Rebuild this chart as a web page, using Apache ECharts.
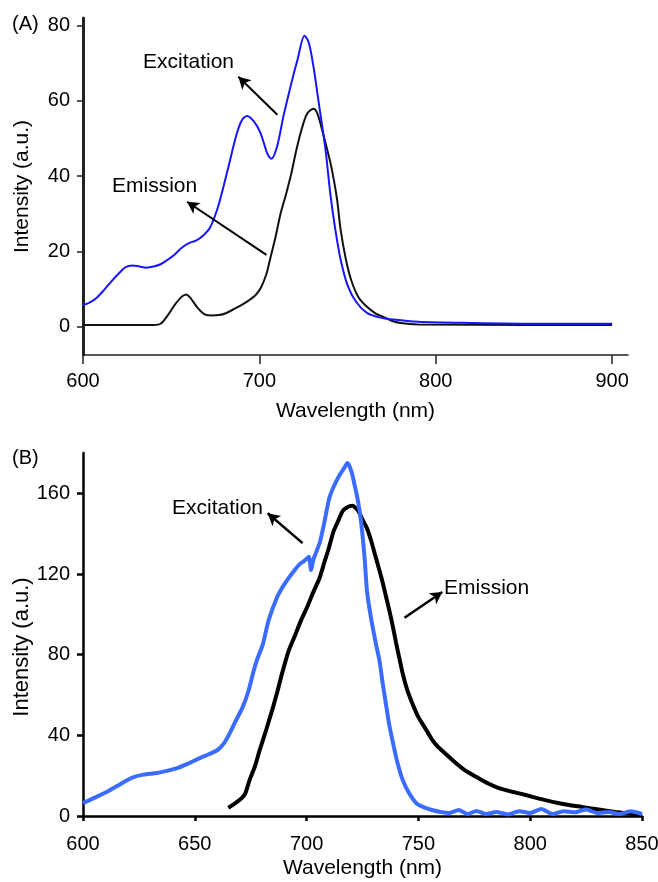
<!DOCTYPE html>
<html>
<head>
<meta charset="utf-8">
<script src="https://cdn.jsdelivr.net/npm/echarts@6/dist/echarts.min.js"></script>
<style>
  html, body { margin: 0; padding: 0; background: #fff; }
  #chart { width: 658px; height: 882px; }
</style>
</head>
<body>
<div id="chart"></div>
<script>
  // ---- panel A (smooth spectra) ----
  var excA_nm  = [600, 604, 608, 612, 616, 620, 624, 628, 632, 636, 640, 644, 648, 652, 656, 660, 664, 668, 672, 676, 679, 683, 687, 690, 693, 697, 700.6, 704.5, 706.8, 710, 713.6, 717.6, 721.6, 725.6, 728, 730.7, 733.5, 737.5, 740.3, 743, 746, 750, 755, 761, 768, 776, 790, 820, 860, 900];
  var excA_int = [5.8, 6.5, 7.8, 9.8, 12, 14, 15.8, 16.3, 16, 15.7, 16, 16.6, 17.8, 19.2, 21, 22.2, 22.9, 24.2, 26.3, 31, 36, 43.5, 51, 54.8, 56, 54.5, 51.5, 46, 44.6, 47.8, 55.8, 63.7, 70.9, 77.3, 75.5, 69, 60, 47, 35, 26, 18, 11, 6.5, 3.7, 2.5, 1.9, 1.3, 1, 0.8, 0.8];

  var emA_nm  = [600, 640, 644, 648, 652, 656, 658.5, 661, 665, 669, 673, 677, 681, 686, 690, 694, 698, 701, 704, 706, 709, 712, 715, 718, 721, 724, 727, 730.7, 733, 736, 739, 741, 744, 746, 749, 752, 756, 761, 766, 770, 775, 780, 790, 850, 900];
  var emA_int = [0.5, 0.5, 0.8, 3, 5.8, 8, 8.6, 7.6, 5, 3.3, 3, 3.1, 3.6, 4.8, 5.8, 7, 8.5, 10.5, 14, 17.8, 23.5, 30, 35, 40.5, 47, 52.5, 56.5, 57.9, 56.5, 51.5, 46, 42, 34, 26, 18, 12.5, 8, 5.3, 3.5, 2.7, 1.6, 1, 0.6, 0.5, 0.5];

  // ---- panel B (raw spectra) ----
  var excB_nm  = [600, 606, 612, 617, 622, 627, 633, 638, 642, 647, 652, 656, 660, 663, 665.6, 668, 671.4, 674, 676, 678, 680.4, 683, 686.6, 689, 691, 694, 697, 699, 701, 702, 703, 704, 706, 708, 710, 712, 714.7, 716.5, 718.3, 720, 721.4, 723, 724.5, 726, 727, 729, 731, 732.6, 734, 735.7, 737, 738.4, 740.5, 743, 746, 749, 752, 756, 760, 764, 768, 772, 776, 780, 785, 790, 795, 800, 805, 810, 815, 820, 825, 830, 835, 840, 845, 850];
  var excB_int = [6.4, 9.5, 12.8, 16, 19, 20.5, 21.3, 22.5, 23.7, 26, 28.6, 30.5, 32.6, 36, 41, 46.5, 54, 62, 70.6, 78, 85, 97, 108, 113, 116.5, 121, 125, 126.5, 128.5, 122, 127, 130, 136, 146, 157, 163, 169, 172, 175, 171, 164.5, 156, 144.7, 127, 111.6, 97, 85.4, 77, 66, 54, 45, 37.5, 27, 17.8, 11, 6.4, 4.5, 3, 2, 1.5, 3, 1, 2.5, 1, 2, 0.8, 2.4, 1.5, 3.5, 1, 2.4, 1.8, 3.2, 1.5, 2, 1, 2.3, 1];

  var emB_nm  = [665, 667, 670, 672.5, 674.5, 677, 679, 682, 685, 687, 689, 692, 695, 697.5, 700, 703, 705.8, 708, 710, 712, 714, 716, 718, 720.5, 723, 725, 727, 729, 731, 733.5, 735.7, 738, 740, 743, 745, 747.3, 750, 753.6, 756, 759, 763, 767, 771, 776, 781, 786, 792, 798, 804, 810, 816, 823, 830, 838, 844, 850];
  var emB_int = [4, 5.5, 7.9, 11, 17.8, 25, 32.6, 43, 54, 62, 70.6, 82, 90, 97, 103, 111, 118, 126, 133, 141, 146, 151, 153, 153.8, 151.5, 147, 142.7, 136, 128, 118, 108, 97, 86, 70.6, 62.5, 55.8, 49, 42.5, 38, 34, 30, 26, 22.5, 19.3, 16.2, 13.8, 12, 10.4, 8.6, 7, 5.7, 4.5, 3.3, 2, 1.2, 0.5];

  // tick labels
  var xTicksA = [600, 700, 800, 900];
  var yTicksA = [0, 20, 40, 60, 80];
  var xTicksB = [600, 650, 700, 750, 800, 850];
  var yTicksB = [0, 40, 80, 120, 160];

  // annotation arrows (tail -> head, in data units)
  var arrowExcA = [[710.2, 56.3], [688.1, 66.4]];
  var arrowEmA  = [[704, 19.1], [659, 33.2]];
  var arrowExcB = [[698.2, 135.3], [682.6, 150.1]];
  var arrowEmB  = [[743.8, 98.3], [760.7, 111.1]];

  function zip(xs, ys) {
    return xs.map(function (x, i) { return [x, ys[i]]; });
  }

  function arrow(pts, width) {
    return {
      silent: true,
      symbol: ['none', 'arrow'],
      symbolSize: [10, 12],
      label: { show: false },
      lineStyle: { color: '#000', width: width, type: 'solid' },
      data: [[{ coord: pts[0] }, { coord: pts[1] }]]
    };
  }

  var font = "'Liberation Sans', Arial, sans-serif";
  var txt = { color: '#000', fontFamily: font };

  var chart = echarts.init(document.getElementById('chart'), null, { renderer: 'canvas' });

  chart.setOption({
    animation: false,
    backgroundColor: '#fff',
    textStyle: txt,
    grid: [
      { left: 83, top: 18, width: 545, height: 337, outerBoundsMode: 'none' },
      { left: 83, top: 453, width: 559, height: 363, outerBoundsMode: 'none' }
    ],
    xAxis: [
      {
        type: 'value', gridIndex: 0, min: 600, max: 909,
        name: 'Wavelength (nm)', nameLocation: 'middle', nameGap: 46, nameMoveOverlap: false,
        nameTextStyle: { fontSize: 21, color: '#000', fontFamily: font },
        axisLine: { onZero: false, lineStyle: { color: '#222', width: 1.5 } },
        axisTick: { customValues: xTicksA, length: 9, lineStyle: { color: '#222', width: 1.5 } },
        axisLabel: { customValues: xTicksA, fontSize: 20, margin: 16, color: '#000', fontFamily: font },
        splitLine: { show: false }
      },
      {
        type: 'value', gridIndex: 1, min: 600, max: 850,
        name: 'Wavelength (nm)', nameLocation: 'middle', nameGap: 42, nameMoveOverlap: false,
        nameTextStyle: { fontSize: 21, color: '#000', fontFamily: font },
        axisLine: { onZero: false, lineStyle: { color: '#000', width: 2.5 } },
        axisTick: { customValues: xTicksB, length: 5, lineStyle: { color: '#000', width: 2.5 } },
        axisLabel: { customValues: xTicksB, fontSize: 20, margin: 18, color: '#000', fontFamily: font },
        splitLine: { show: false }
      }
    ],
    yAxis: [
      {
        type: 'value', gridIndex: 0, min: -7.5, max: 82,
        name: 'Intensity (a.u.)', nameLocation: 'middle', nameGap: 50, nameMoveOverlap: false,
        nameTextStyle: { fontSize: 21, color: '#000', fontFamily: font },
        axisLine: { show: true, onZero: false, lineStyle: { color: '#222', width: 3 } },
        axisTick: { show: true, customValues: yTicksA, length: 6, lineStyle: { color: '#222', width: 1.5 } },
        axisLabel: { customValues: yTicksA, fontSize: 20, margin: 13, color: '#000', fontFamily: font },
        splitLine: { show: false }
      },
      {
        type: 'value', gridIndex: 1, min: 0, max: 180,
        name: 'Intensity (a.u.)', nameLocation: 'middle', nameGap: 50, nameMoveOverlap: false,
        nameTextStyle: { fontSize: 22, color: '#000', fontFamily: font, padding: [0, 25, 0, 0] },
        axisLine: { show: true, onZero: false, lineStyle: { color: '#000', width: 2.5 } },
        axisTick: { show: true, customValues: yTicksB, length: 6, lineStyle: { color: '#000', width: 2.5 } },
        axisLabel: { customValues: yTicksB, fontSize: 20, margin: 13, color: '#000', fontFamily: font },
        splitLine: { show: false }
      }
    ],
    series: [
      {
        name: 'Emission A', type: 'line', xAxisIndex: 0, yAxisIndex: 0,
        data: zip(emA_nm, emA_int), smooth: 0.3, showSymbol: false,
        lineStyle: { color: '#111', width: 2 },
        markLine: arrow(arrowEmA, 2)
      },
      {
        name: 'Excitation A', type: 'line', xAxisIndex: 0, yAxisIndex: 0,
        data: zip(excA_nm, excA_int), smooth: 0.3, showSymbol: false,
        lineStyle: { color: '#1515ff', width: 2 },
        markLine: arrow(arrowExcA, 2)
      },
      {
        name: 'Emission B', type: 'line', xAxisIndex: 1, yAxisIndex: 1,
        data: zip(emB_nm, emB_int), smooth: 0.2, showSymbol: false,
        lineStyle: { color: '#000', width: 4 },
        markLine: arrow(arrowEmB, 2.5)
      },
      {
        name: 'Excitation B', type: 'line', xAxisIndex: 1, yAxisIndex: 1,
        data: zip(excB_nm, excB_int), smooth: 0.2, showSymbol: false,
        lineStyle: { color: '#3a6cff', width: 4 },
        markLine: arrow(arrowExcB, 2.5)
      }
    ],
    graphic: [
      { type: 'text', left: 12, top: 14, style: { text: '(A)', font: '20px ' + font, fill: '#000' } },
      { type: 'text', left: 12, top: 448, style: { text: '(B)', font: '20px ' + font, fill: '#000' } },
      { type: 'text', left: 143, top: 52, style: { text: 'Excitation', font: '21px ' + font, fill: '#000' } },
      { type: 'text', left: 112, top: 176, style: { text: 'Emission', font: '21px ' + font, fill: '#000' } },
      { type: 'text', left: 172, top: 498, style: { text: 'Excitation', font: '21px ' + font, fill: '#000' } },
      { type: 'text', left: 444, top: 578, style: { text: 'Emission', font: '21px ' + font, fill: '#000' } }
    ]
  });
</script>
</body>
</html>
